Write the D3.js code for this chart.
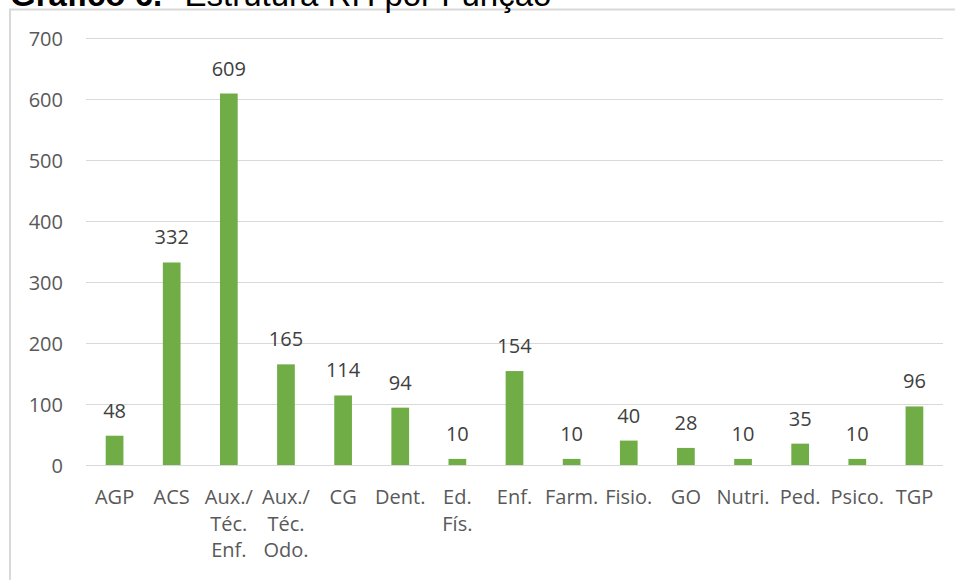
<!DOCTYPE html>
<html>
<head>
<meta charset="utf-8">
<script src="https://cdn.jsdelivr.net/npm/d3@7"></script>
<style>
  html, body { margin: 0; padding: 0; background: #ffffff; }
  svg { display: block; }
</style>
</head>
<body>
<svg id="chart" width="955" height="580"></svg>
<script>
const categories = ["AGP", "ACS", "Aux./ Téc. Enf.", "Aux./ Téc. Odo.", "CG", "Dent.", "Ed. Fís.", "Enf.", "Farm.", "Fisio.", "GO", "Nutri.", "Ped.", "Psico.", "TGP"];
const values = [48, 332, 609, 165, 114, 94, 10, 154, 10, 40, 28, 10, 35, 10, 96];
const yTicks = [0, 100, 200, 300, 400, 500, 600, 700];
const titleBold = "Gráfico 6.";
const titleRest = "– Estrutura RH por Função";

const svg = d3.select("#chart");

// frame
svg.append("rect")
  .attr("x", 10).attr("y", 9.5)
  .attr("width", 960).attr("height", 600)
  .attr("fill", "#ffffff")
  .attr("stroke", "#d9d9d9").attr("stroke-width", 2);

// title (cut at top)
const title = svg.append("text")
  .attr("x", 10).attr("y", 5.5)
  .attr("font-family", "Liberation Sans, Arial, sans-serif")
  .attr("font-size", 33)
  .attr("fill", "#000000");
title.append("tspan").attr("font-weight", "bold").text(titleBold);
title.append("tspan").attr("x", 157).text(titleRest);

const x = d3.scaleBand().domain(categories).range([86, 943]).paddingInner(0.69).paddingOuter(0.345);
const y = d3.scaleLinear().domain([0, 700]).range([465, 38]);

const font = "'Open Sans', 'Noto Sans', sans-serif";
const fs = 20;

// gridlines
svg.append("g")
  .selectAll("line")
  .data(yTicks)
  .join("line")
  .attr("x1", 86).attr("x2", 943)
  .attr("y1", d => Math.round(y(d)) + 0.5).attr("y2", d => Math.round(y(d)) + 0.5)
  .attr("stroke", "#d9d9d9").attr("stroke-width", 1);

// y axis labels
const yAxis = svg.append("g")
  .attr("transform", "translate(63,0)")
  .call(d3.axisLeft(y).tickValues(yTicks).tickSize(0).tickPadding(0));
yAxis.select(".domain").remove();
yAxis.selectAll("text")
  .attr("font-family", font).attr("font-size", fs).attr("fill", "#595959")
  .attr("dy", "0.36em");

// bars
svg.append("g")
  .selectAll("rect")
  .data(values)
  .join("rect")
  .attr("x", (d, i) => x(categories[i]))
  .attr("width", x.bandwidth())
  .attr("y", d => y(d))
  .attr("height", d => y(0) - y(d))
  .attr("fill", "#70ad47");

// data labels
svg.append("g")
  .selectAll("text")
  .data(values)
  .join("text")
  .attr("x", (d, i) => x(categories[i]) + x.bandwidth() / 2)
  .attr("y", d => y(d) - 18)
  .attr("text-anchor", "middle")
  .attr("font-family", font).attr("font-size", fs).attr("fill", "#404040")
  .text(d => d);

// x axis line
svg.append("line")
  .attr("x1", 86).attr("x2", 943)
  .attr("y1", Math.round(y(0)) + 0.5).attr("y2", Math.round(y(0)) + 0.5)
  .attr("stroke", "#d9d9d9").attr("stroke-width", 1);

// x axis labels
const xAxis = svg.append("g")
  .attr("transform", `translate(0,${y(0)})`)
  .call(d3.axisBottom(x).tickSize(0).tickPadding(0));
xAxis.select(".domain").remove();
xAxis.selectAll("text").each(function(d) {
  const t = d3.select(this);
  t.text(null)
    .attr("font-family", font).attr("font-size", fs).attr("fill", "#595959")
    .attr("y", 0).attr("dy", null);
  d.split(" ").forEach((w, k) => {
    t.append("tspan").attr("x", 0).attr("y", 39 + k * 26.5).text(w);
  });
});
</script>
</body>
</html>
